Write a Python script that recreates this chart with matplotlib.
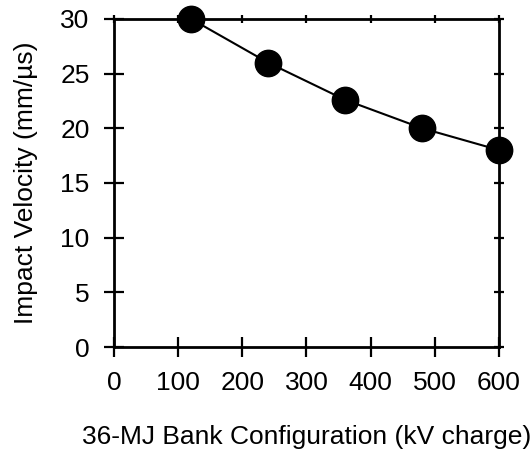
import numpy as np
import matplotlib.pyplot as plt

plt.rcParams['font.family'] = ['Liberation Sans', 'DejaVu Sans']

# 36-MJ bank charge (kV) vs impact velocity (mm/us)
charge_kv = [120, 240, 360, 480, 600]
velocity = [30.0, 26.0, 22.6, 20.0, 18.0]
xticks = [0, 100, 200, 300, 400, 500, 600]
yticks = [0, 5, 10, 15, 20, 25, 30]

fig = plt.figure(figsize=(5.32, 4.59), dpi=100)
ax = fig.add_axes([0.214, 0.244, 0.724, 0.715])

ax.plot(charge_kv, velocity, color='black', lw=1.5, marker='o',
        markersize=19, markerfacecolor='black', markeredgecolor='black',
        clip_on=False, zorder=5)

ax.set_xlim(0, 600)
ax.set_ylim(0, 30)
ax.set_xticks(xticks)
ax.set_yticks(yticks)
for s in ax.spines.values():
    s.set_linewidth(2)

ax.tick_params(axis='both', which='major', direction='inout', length=14,
               width=1.6, labelsize=19)
ax.tick_params(axis='x', pad=10)
ax.tick_params(axis='y', pad=10.5)
ax.tick_params(top=True, right=True)
# ticks on top and right point inward only
for t in ax.xaxis.get_major_ticks():
    t.tick2line.set_markersize(6)
for t in ax.yaxis.get_major_ticks():
    t.tick2line.set_markersize(7)

ax.set_xlabel('36-MJ Bank Configuration (kV charge)', fontsize=19, labelpad=22)
ax.set_ylabel('Impact Velocity (mm/\u00b5s)', fontsize=19, labelpad=16)

fig.savefig('out.png', dpi=100)
